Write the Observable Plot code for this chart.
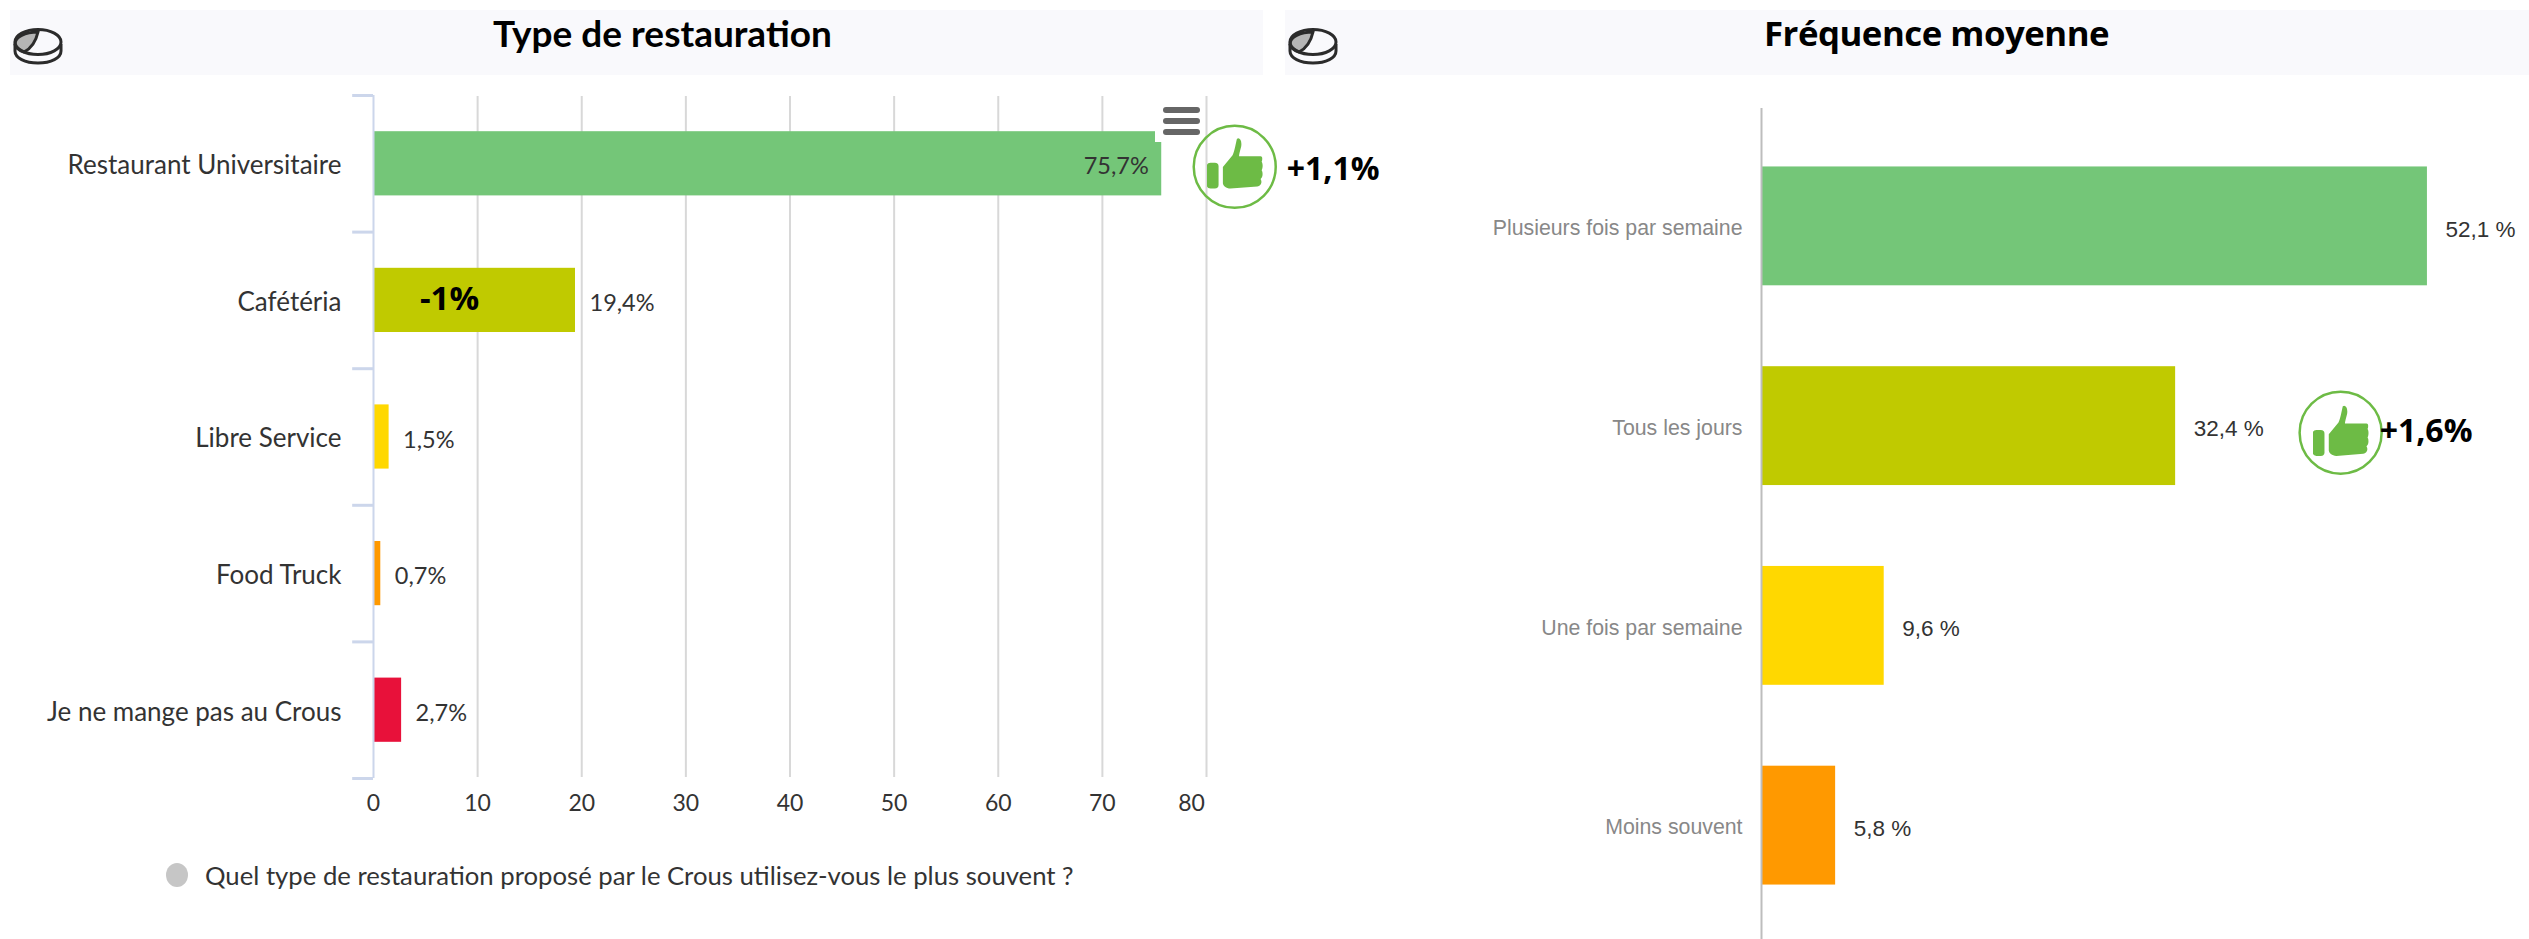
<!DOCTYPE html>
<html lang="fr">
<head>
<meta charset="utf-8">
<title>Restauration Crous</title>
<script src="https://cdn.jsdelivr.net/npm/d3@7"></script>
<script src="https://cdn.jsdelivr.net/npm/@observablehq/plot@0.6"></script>
<style>
  html, body { margin: 0; padding: 0; background: #fff; overflow: hidden; }
  #page { position: relative; width: 2529px; height: 939px; overflow: hidden; }
  #page > svg { position: absolute; left: 0; top: 0; }
  .band { position: absolute; top: 10px; height: 65px; background: #f9f9fc; }
  .band svg { position: absolute; left: 2px; top: 14px; }
  .band h2 { position: absolute; margin: 0; top: -1px; line-height: 48px; white-space: nowrap; color: #000; }
  #title-a { font: 700 37px/48px Lato, sans-serif; left: 483px; }
  #title-b { font: 700 34.8px/48px "Open Sans", sans-serif; left: 479px; letter-spacing: -0.5px; }
  #menu { position: absolute; left: 1155px; top: 100px; width: 46px; height: 42px; background: #fff; }
  #menu i { position: absolute; left: 8px; width: 37px; height: 6px; border-radius: 3px; background: #666; }
  #note { position: absolute; left: 166px; top: 858px; display: flex; align-items: center; gap: 17px;
          font: 400 25.7px Lato, sans-serif; color: #333; white-space: nowrap; height: 34px; }
  #note b { display: block; width: 22px; height: 24px; border-radius: 50%; background: #c6c6c6; }
</style>
</head>
<body>
<div id="page"></div>
<script>
// Type de restauration
const venueNames = ["Restaurant Universitaire", "Cafétéria", "Libre Service", "Food Truck", "Je ne mange pas au Crous"];
const venueShares = [75.7, 19.4, 1.5, 0.7, 2.7];
const venueColors = ["#74c678", "#c0ca00", "#ffd800", "#ff9900", "#e8113a"];
const venueLabels = ["75,7%", "19,4%", "1,5%", "0,7%", "2,7%"];
const shareTicks = [0, 10, 20, 30, 40, 50, 60, 70];
const lastShareTick = [80];

// Fréquence moyenne
const frequencyNames = ["Plusieurs fois par semaine", "Tous les jours", "Une fois par semaine", "Moins souvent"];
const frequencyShares = [52.1, 32.4, 9.6, 5.8];
const frequencyColors = ["#74c678", "#c0ca00", "#ffd800", "#ff9900"];
const frequencyLabels = ["52,1 %", "32,4 %", "9,6 %", "5,8 %"];

// Évolutions signalées à côté des barres
const venueGain = {name: "Restaurant Universitaire", value: 75.7, text: "+1,1%"};
const venueLoss = {name: "Cafétéria", value: 0, text: "-1%"};
const frequencyGain = {name: "Tous les jours", value: 32.4, text: "+1,6%"};

const thumbSvg = `<svg xmlns="http://www.w3.org/2000/svg" viewBox="0 0 52 48"><g fill="#6dbb45">
<rect x="0" y="23" width="11" height="24" rx="3.5"/>
<path d="M15 27 L24 16 C26 12 27 5 28 1 C30 -1 33 2 32 8 C31 12 30 15 30 17 L50 17 C52 17 52 20 51 22 C53 25 52 28 51 30 C53 33 52 36 50 38 C52 41 50 45 47 45 L22 47 C18 47 15 44 15 42 Z"/>
</g></svg>`;
const thumbSrc = "data:image/svg+xml," + encodeURIComponent(thumbSvg);

const pieIcon = `<svg width="52" height="42" viewBox="0 0 52 42" fill="none" stroke="#2b2b2b" stroke-width="3">
<path d="M3 20 V27 C3 34 13 39 26 39 C39 39 49 34 49 27 V20"/>
<path d="M26 8 C13 8 3 13 3 20 C3 23 6 26 12 28 C20 24 24 17 26 8 Z" fill="#b5b5b5"/>
<ellipse cx="26" cy="18" rx="23" ry="12.5"/>
</svg>`;

function band(id, left, width, title) {
  const el = document.createElement("div");
  el.className = "band";
  el.style.left = left + "px";
  el.style.width = width + "px";
  el.innerHTML = pieIcon + `<h2 id="${id}">${title}</h2>`;
  return el;
}

const page = document.getElementById("page");
page.append(band("title-a", 10, 1253, "Type de restauration"));
page.append(band("title-b", 1285, 1244, "Fréquence moyenne"));

const venues = venueNames.map((name, i) => ({name, share: venueShares[i], label: venueLabels[i]}));
const frequencies = frequencyNames.map((name, i) => ({name, share: frequencyShares[i], label: frequencyLabels[i]}));
const venueTickEdge = 68.3;

const venueChart = Plot.plot({
  width: 2529, height: 939,
  marginLeft: 373, marginRight: 1323, marginTop: 95, marginBottom: 161,
  style: {background: "transparent", fontFamily: "Lato, sans-serif", overflow: "visible"},
  x: {domain: [0, 80], axis: null},
  y: {domain: venueNames, paddingInner: 0.53, paddingOuter: 0.265, round: false, axis: null},
  color: {domain: venueNames, range: venueColors},
  marks: [
    Plot.ruleX(shareTicks.slice(1).concat(lastShareTick), {stroke: "#d8d8d8", strokeWidth: 2, insetTop: 1, insetBottom: 1}),
    Plot.barX(venues, {y: "name", x: "share", fill: "name"}),
    Plot.ruleX([0], {stroke: "#ccd6eb", strokeWidth: 2}),
    Plot.ruleY(venueNames, {y: d => d, x1: -2, x2: 0, dy: -venueTickEdge, stroke: "#ccd6eb", strokeWidth: 3}),
    Plot.ruleY(venueNames.slice(-1), {y: d => d, x1: -2, x2: 0, dy: venueTickEdge, stroke: "#ccd6eb", strokeWidth: 3}),
    Plot.text(venues, {y: "name", text: "name", frameAnchor: "left", textAnchor: "end", dx: -32, dy: 2, fontSize: 26, fill: "#333"}),
    Plot.text(shareTicks, {x: d => d, text: String, frameAnchor: "bottom", dy: 32, fontSize: 23, fill: "#333"}),
    Plot.text(lastShareTick, {x: d => d, text: String, frameAnchor: "bottom", dy: 32, dx: -15, fontSize: 23, fill: "#333"}),
    Plot.text(venues.slice(0, 1), {y: "name", x: "share", text: "label", textAnchor: "end", dx: -13, dy: 3, fontSize: 23.5, fill: "#333"}),
    Plot.text(venues.slice(1), {y: "name", x: "share", text: "label", textAnchor: "start", dx: 14, dy: 3, fontSize: 23.5, fill: "#333"}),
    Plot.dot([venueGain], {y: "name", x: "value", dx: 73, dy: 3, r: 41, stroke: "#6dbb45", strokeWidth: 2.5}),
    Plot.image([venueGain], {y: "name", x: "value", dx: 73, src: thumbSrc, width: 56, height: 52}),
    Plot.text([venueGain], {y: "name", x: "value", text: "text", textAnchor: "start", dx: 125, dy: 6, fontSize: 32, fontWeight: 700, fontFamily: "Open Sans, sans-serif", fill: "#000"}),
    Plot.text([venueLoss], {y: "name", x: "value", text: "text", textAnchor: "middle", dx: 76, dy: -1, fontSize: 33, fontWeight: 700, fontFamily: "Open Sans, sans-serif", fill: "#000"})
  ]
});
page.append(venueChart);

const frequencyChart = Plot.plot({
  width: 2529, height: 939,
  marginLeft: 1761, marginRight: 65, marginTop: 126, marginBottom: 14,
  style: {background: "transparent", fontFamily: "Liberation Sans, Arial, sans-serif", overflow: "visible"},
  x: {domain: [0, 55], axis: null},
  y: {domain: frequencyNames, paddingInner: 0.405, paddingOuter: 0.2025, round: false, axis: null},
  color: {domain: frequencyNames, range: frequencyColors},
  marks: [
    Plot.barX(frequencies, {y: "name", x: "share", fill: "name"}),
    Plot.ruleX([0], {stroke: "#bdbdbd", strokeWidth: 2, insetTop: -18, insetBottom: -14}),
    Plot.text(frequencies, {y: "name", text: "name", frameAnchor: "left", textAnchor: "end", dx: -19, dy: 2, fontSize: 21.3, fill: "#888"}),
    Plot.text(frequencies, {y: "name", x: "share", text: "label", textAnchor: "start", dx: 18, dy: 3, fontSize: 22.5, fill: "#333"}),
    Plot.dot([frequencyGain], {y: "name", x: "value", dx: 165, dy: 6.5, r: 41, stroke: "#6dbb45", strokeWidth: 2.5}),
    Plot.image([frequencyGain], {y: "name", x: "value", dx: 165, dy: 5, src: thumbSrc, width: 56, height: 52}),
    Plot.text([frequencyGain], {y: "name", x: "value", text: "text", textAnchor: "start", dx: 204, dy: 6, fontSize: 32, fontWeight: 700, fontFamily: "Open Sans, sans-serif", fill: "#000"})
  ]
});
page.append(frequencyChart);

const menu = document.createElement("div");
menu.id = "menu";
menu.innerHTML = `<i style="top:7px"></i><i style="top:18px"></i><i style="top:29px"></i>`;
page.append(menu);

const note = document.createElement("div");
note.id = "note";
note.innerHTML = `<b></b><span>Quel type de restauration proposé par le Crous utilisez-vous le plus souvent ?</span>`;
page.append(note);
</script>
</body>
</html>
